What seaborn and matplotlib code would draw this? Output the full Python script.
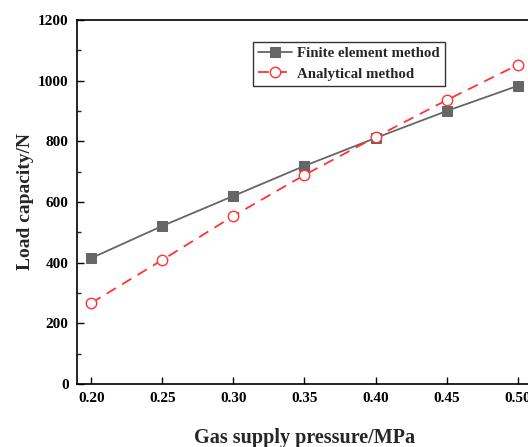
import matplotlib
matplotlib.use("Agg")
import matplotlib.pyplot as plt
import seaborn as sns
import pandas as pd
from matplotlib.ticker import MultipleLocator

pressure = [0.20, 0.25, 0.30, 0.35, 0.40, 0.45, 0.50]
fem = [415, 521, 620, 719, 811, 900, 983]
analytical = [267, 409, 554, 689, 814, 936, 1052]

sns.set_style("ticks")
plt.rcParams['font.family'] = ['Liberation Serif', 'DejaVu Serif']
plt.rcParams['font.weight'] = 'bold'

fig = plt.figure(figsize=(5.28, 4.47), dpi=100)
ax = fig.add_axes([77/528, 63/447, 455/528, 364/447])

df_f = pd.DataFrame({"p": pressure, "v": fem})
df_a = pd.DataFrame({"p": pressure, "v": analytical})

sns.lineplot(data=df_f, x="p", y="v", ax=ax, color="#666666", lw=1.3,
             marker="s", markersize=7.5, markeredgecolor="#666666",
             label="Finite element method")
sns.lineplot(data=df_a, x="p", y="v", ax=ax, color="#FF3333", lw=1.3,
             linestyle=(0, (6, 4)), marker="o", markersize=7.5,
             markerfacecolor="white", markeredgecolor="#FF3333",
             markeredgewidth=1.0, label="Analytical method")

ax.set_xlim(0.19, 0.51)
ax.set_ylim(0, 1200)
ax.set_xticks(pressure)
ax.set_xticklabels([f"{p:.2f}" for p in pressure])
ax.yaxis.set_major_locator(MultipleLocator(200))
ax.yaxis.set_minor_locator(MultipleLocator(100))
ax.tick_params(axis='both', which='major', direction='in', length=5, width=1,
               labelsize=11, colors='black', pad=6)
ax.tick_params(axis='y', which='minor', direction='in', length=3, width=1)
for lab in ax.get_xticklabels() + ax.get_yticklabels():
    lab.set_fontweight('bold')
for s in ['left', 'bottom', 'top']:
    ax.spines[s].set_visible(True)
    ax.spines[s].set_color('black')
    ax.spines[s].set_linewidth(1.2)
ax.spines['right'].set_visible(False)

ax.set_xlabel("Gas supply pressure/MPa", fontsize=14.5, fontweight='bold', labelpad=16)
ax.set_ylabel("Load capacity/N", fontsize=14, fontweight='bold', labelpad=3)

leg = ax.legend(loc='upper left', bbox_to_anchor=(0.387, 0.94), frameon=True,
                fancybox=False, edgecolor='black', fontsize=10.7,
                handlelength=2.3, borderpad=0.35, labelspacing=0.45,
                handletextpad=0.3, borderaxespad=0)
leg.get_frame().set_linewidth(1.0)
for t in leg.get_texts():
    t.set_fontweight('bold')

fig.savefig("out.png", dpi=100)
